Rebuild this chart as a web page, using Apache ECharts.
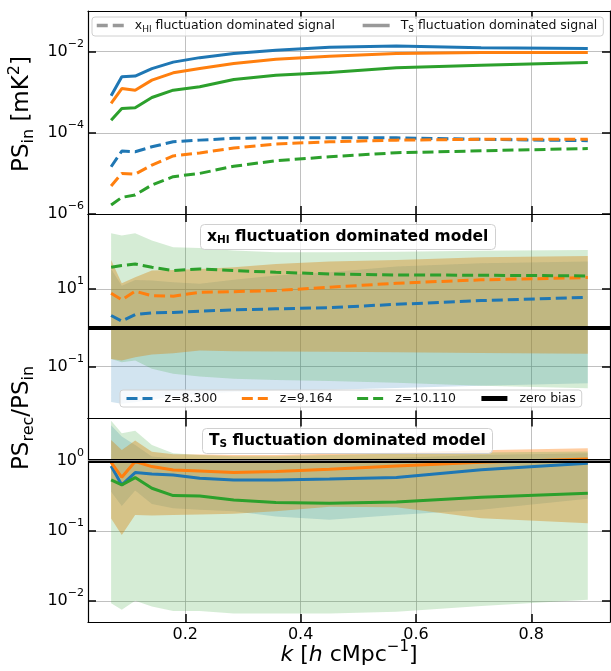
<!DOCTYPE html>
<html>
<head>
<meta charset="utf-8">
<script src="https://cdn.jsdelivr.net/npm/echarts@6/dist/echarts.min.js"></script>
<style>
  html, body { margin: 0; padding: 0; background: #fff; }
  #chart { width: 611px; height: 671px; }
</style>
</head>
<body>
<div id="chart"></div>
<script>
// k bins [h/cMpc]
var k = [0.0713, 0.0898, 0.113, 0.142, 0.179, 0.225, 0.284, 0.357, 0.450, 0.566, 0.713, 0.898];

// top panel: input power spectra [mK^2]
var psInTs8 = [8.2e-4, 2.4e-3, 2.5e-3, 3.8e-3, 5.5e-3, 7.1e-3, 9.0e-3, 1.08e-2, 1.28e-2, 1.38e-2, 1.24e-2, 1.19e-2];
var psInTs9 = [5.3e-4, 1.23e-3, 1.12e-3, 1.98e-3, 3.0e-3, 3.83e-3, 5.1e-3, 6.5e-3, 7.7e-3, 9.0e-3, 9.5e-3, 9.5e-3];
var psInTs10 = [2.05e-4, 3.97e-4, 4.13e-4, 7.4e-4, 1.12e-3, 1.36e-3, 2.06e-3, 2.63e-3, 3.05e-3, 3.98e-3, 4.63e-3, 5.38e-3];
var psInXh8 = [1.46e-5, 3.55e-5, 3.41e-5, 4.53e-5, 6.0e-5, 6.6e-5, 7.3e-5, 7.5e-5, 7.5e-5, 7.5e-5, 6.9e-5, 6.4e-5];
var psInXh9 = [4.9e-6, 1.0e-5, 9.6e-6, 1.6e-5, 2.7e-5, 3.2e-5, 4.2e-5, 5.3e-5, 6.0e-5, 6.6e-5, 6.9e-5, 6.9e-5];
var psInXh10 = [1.66e-6, 2.57e-6, 2.93e-6, 5.2e-6, 8.3e-6, 1.0e-5, 1.5e-5, 2.05e-5, 2.57e-5, 3.23e-5, 3.6e-5, 4.1e-5];

// middle panel: xHI model, PS_rec/PS_in median and band
var xh8 = [2.06, 1.47, 2.18, 2.41, 2.46, 2.66, 2.88, 3.06, 3.3, 4.0, 5.0, 6.1];
var xh9 = [7.7, 5.2, 8.7, 6.7, 6.5, 8.2, 8.5, 9.1, 11.0, 14.0, 17.1, 19.6];
var xh10 = [36, 40, 44, 36, 29.6, 32.7, 29.6, 26.9, 24.3, 22.9, 22.5, 21.6];
var xh8Lo = [0.0121, 0.011, 0.012, 0.014, 0.017, 0.02, 0.022, 0.024, 0.025, 0.028, 0.032, 0.037];
var xh8Hi = [32.7, 12, 17, 16.4, 14.9, 13.5, 17.1, 22, 26.9, 37.6, 45.8, 50.6];
var xh9Lo = [0.157, 0.143, 0.174, 0.204, 0.219, 0.258, 0.248, 0.245, 0.24, 0.234, 0.222, 0.212];
var xh9Hi = [55.8, 14, 20, 30, 30.8, 32.7, 36.2, 44, 50.6, 55.8, 65.3, 70.8];
var xh10Lo = [0.157, 0.128, 0.143, 0.087, 0.065, 0.055, 0.048, 0.045, 0.042, 0.038, 0.032, 0.0277];
var xh10Hi = [271, 236, 271, 176, 118, 114, 97, 88, 88, 91, 96, 101];

// bottom panel: Ts model
var ts8 = [0.84, 0.45, 0.675, 0.646, 0.625, 0.56, 0.53, 0.53, 0.548, 0.573, 0.74, 0.92];
var ts9 = [0.946, 0.579, 0.968, 0.822, 0.736, 0.713, 0.675, 0.697, 0.753, 0.839, 0.95, 1.05];
var ts10 = [0.53, 0.45, 0.573, 0.404, 0.317, 0.314, 0.275, 0.252, 0.247, 0.258, 0.3, 0.343];
var ts8Lo = [0.36, 0.226, 0.374, 0.24, 0.21, 0.2, 0.19, 0.16, 0.143, 0.168, 0.199, 0.285];
var ts8Hi = [3.2, 2.2, 1.67, 1.14, 1.08, 1.05, 1.0, 1.0, 1.05, 1.1, 1.2, 1.27];
var ts9Lo = [0.15, 0.087, 0.168, 0.165, 0.168, 0.17, 0.175, 0.19, 0.22, 0.216, 0.151, 0.128];
var ts9Hi = [1.97, 1.42, 1.93, 1.34, 1.23, 1.22, 1.2, 1.2, 1.25, 1.3, 1.4, 1.5];
var ts10Lo = [0.0093, 0.0075, 0.0101, 0.0083, 0.0072, 0.0072, 0.0066, 0.0066, 0.0066, 0.007, 0.0085, 0.0104];
var ts10Hi = [3.7, 2.45, 2.67, 1.67, 1.27, 1.2, 1.15, 1.15, 1.2, 1.25, 1.3, 1.35];

var xTicks = [0.2, 0.4, 0.6, 0.8];
var yTicks = [[1e-6, 1e-4, 1e-2], [0.1, 10], [0.01, 0.1, 1]];
var yRange = [[1e-6, 1e-1], [0.00457, 851], [0.00501, 3.98]];

var FONT = 'DejaVu Sans';
var C8 = '#1f77b4', C9 = '#ff7f0e', C10 = '#2ca02c';
var DASH = [11, 5];
var gridTops = [11, 214, 418.5];
var gridH = [203, 204.5, 203.5];

var chart = echarts.init(document.getElementById('chart'));

function pairs(arr) { return k.map(function (x, i) { return [x, arr[i]]; }); }

function supLabel(v) {
  var e = Math.round(Math.log10(v));
  return '{b|10}{e|' + (e < 0 ? '\u2212' : '') + Math.abs(e) + '}';
}

var xAxes = [], yAxes = [], grids = [];
for (var g = 0; g < 3; g++) {
  grids.push({ left: 88, right: 1, top: gridTops[g], height: gridH[g] });
  var axLine = { show: true, onZero: false, lineStyle: { color: '#000', width: 1.2 } };
  var tick = { show: true, inside: true, length: 8, lineStyle: { color: '#000', width: 1.5 } };
  xAxes.push({
    gridIndex: g, type: 'value', position: 'bottom', min: 0.0312, max: 0.9365,
    axisLine: axLine,
    axisTick: Object.assign({ customValues: xTicks }, tick),
    axisLabel: { show: g === 2, customValues: xTicks, margin: 5, fontSize: 16, color: '#000', fontFamily: FONT },
    splitLine: { show: true, lineStyle: { color: '#b0b0b0', width: 0.8 } }
  });
  xAxes.push({
    gridIndex: g, type: 'value', position: 'top', min: 0.0312, max: 0.9365,
    axisLine: axLine,
    axisTick: Object.assign({ customValues: xTicks }, tick),
    axisLabel: { show: false },
    splitLine: { show: false }
  });
  yAxes.push({
    gridIndex: g, type: 'log', logBase: 10, position: 'left', min: yRange[g][0], max: yRange[g][1],
    axisLine: axLine,
    axisTick: Object.assign({ customValues: yTicks[g] }, tick),
    minorTick: { show: false },
    axisLabel: {
      customValues: yTicks[g], margin: 4, color: '#000', fontFamily: FONT,
      formatter: supLabel,
      rich: {
        b: { fontSize: 16, lineHeight: 26, fontFamily: FONT, color: '#000' },
        e: { fontSize: 11, verticalAlign: 'top', fontFamily: FONT, color: '#000' }
      }
    },
    splitLine: { show: true, lineStyle: { color: '#b0b0b0', width: 0.8 } }
  });
  yAxes.push({
    gridIndex: g, type: 'log', logBase: 10, position: 'right', min: yRange[g][0], max: yRange[g][1],
    axisLine: axLine,
    axisTick: Object.assign({ customValues: yTicks[g] }, tick),
    axisLabel: { show: false },
    splitLine: { show: false }
  });
}

function line(name, g, arr, color, dashed) {
  return {
    name: name, type: 'line', xAxisIndex: 2 * g, yAxisIndex: 2 * g, data: pairs(arr),
    symbol: 'none', color: color, z: 4, silent: true,
    lineStyle: { color: color, width: 3, type: dashed ? DASH : 'solid' }
  };
}

function band(g, lo, hi, color, alpha) {
  return {
    type: 'custom', xAxisIndex: 2 * g, yAxisIndex: 2 * g, silent: true, z: 1,
    data: k.map(function (x, i) { return [x, lo[i], hi[i]]; }),
    encode: { x: 0, y: [1, 2] },
    renderItem: function (params, api) {
      if (params.dataIndexInside !== 0) return null;
      var n = params.dataInsideLength, top = [], bot = [];
      for (var i = 0; i < n; i++) {
        top.push(api.coord([api.value(0, i), api.value(2, i)]));
        bot.push(api.coord([api.value(0, i), api.value(1, i)]));
      }
      return { type: 'polygon', shape: { points: top.concat(bot.reverse()) }, style: { fill: color, opacity: alpha } };
    }
  };
}

function zeroBias(g, withGrid) {
  var d = [{ yAxis: 1, lineStyle: { color: '#000', width: 4, type: 'solid' } }];
  if (withGrid) d.push({ yAxis: 1, lineStyle: { color: '#b0b0b0', width: 0.8, type: 'solid' } });
  return {
    name: 'zero bias', type: 'line', xAxisIndex: 2 * g, yAxisIndex: 2 * g, data: [],
    color: '#000', lineStyle: { color: '#000', width: 4 }, symbol: 'none', z: 3,
    markLine: { silent: true, symbol: ['none', 'none'], label: { show: false }, animation: false, data: d }
  };
}

var series = [
  // legend proxies for top panel
  { name: 'xhi', type: 'line', xAxisIndex: 0, yAxisIndex: 0, data: [], symbol: 'none', color: '#999',
    lineStyle: { color: '#999', width: 3, type: DASH } },
  { name: 'ts', type: 'line', xAxisIndex: 0, yAxisIndex: 0, data: [], symbol: 'none', color: '#999',
    lineStyle: { color: '#999', width: 3, type: 'solid' } },
  line('in xhi 8.300', 0, psInXh8, C8, true),
  line('in xhi 9.164', 0, psInXh9, C9, true),
  line('in xhi 10.110', 0, psInXh10, C10, true),
  line('in ts 8.300', 0, psInTs8, C8, false),
  line('in ts 9.164', 0, psInTs9, C9, false),
  line('in ts 10.110', 0, psInTs10, C10, false),

  band(1, xh8Lo, xh8Hi, C8, 0.2),
  band(1, xh9Lo, xh9Hi, C9, 0.4),
  band(1, xh10Lo, xh10Hi, C10, 0.2),
  zeroBias(1, false),
  line('z=8.300', 1, xh8, C8, true),
  line('z=9.164', 1, xh9, C9, true),
  line('z=10.110', 1, xh10, C10, true),

  band(2, ts8Lo, ts8Hi, C8, 0.2),
  band(2, ts9Lo, ts9Hi, C9, 0.4),
  band(2, ts10Lo, ts10Hi, C10, 0.2),
  zeroBias(2, true),
  line('ts 8.300', 2, ts8, C8, false),
  line('ts 9.164', 2, ts9, C9, false),
  line('ts 10.110', 2, ts10, C10, false)
];

function legendRich(pad) {
  return {
    t: { fontSize: 12.5, lineHeight: 17, fontFamily: FONT, color: '#111', padding: [0, 0, 0, pad] },
    u: { fontSize: 12.5, lineHeight: 17, fontFamily: FONT, color: '#111' },
    s: { fontSize: 9, verticalAlign: 'bottom', fontFamily: FONT, color: '#111' }
  };
}

var option = {
  animation: false,
  grid: grids,
  xAxis: xAxes,
  yAxis: yAxes,
  series: series,
  legend: [
    {
      data: ['xhi', 'ts'], left: 92, top: 17, width: 580, orient: 'horizontal',
      itemWidth: 27, itemHeight: 12, itemGap: 26,
      itemStyle: { opacity: 0 },
      lineStyle: { width: 3.5 },
      padding: [2, 6, 2, 3], borderColor: '#d0d0d0', borderWidth: 1, borderRadius: 3,
      backgroundColor: 'rgba(255,255,255,0.8)', selectedMode: false,
      formatter: function (n) {
        return n === 'xhi' ? '{t|x}{s|HI}{u| fluctuation dominated signal}' : '{t|T}{s|S}{u| fluctuation dominated signal}';
      },
      textStyle: { rich: legendRich(6) }
    },
    {
      data: ['z=8.300', 'z=9.164', 'z=10.110', { name: 'zero bias', lineStyle: { width: 5 } }],
      left: 120, top: 390,
      width: 560, orient: 'horizontal',
      itemWidth: 26, itemHeight: 12, itemGap: 23,
      itemStyle: { opacity: 0 },
      lineStyle: { width: 3 },
      padding: [2, 6, 2, 5], borderColor: '#d0d0d0', borderWidth: 1, borderRadius: 3,
      backgroundColor: 'rgba(255,255,255,0.8)', selectedMode: false,
      formatter: function (n) { return '{t|' + n + '}'; },
      textStyle: { rich: legendRich(7) }
    }
  ],
  title: [
    {
      text: '{b|x}{s|HI}{b| fluctuation dominated model}', left: 200, top: 223,
      padding: [4, 7, 4, 7], borderColor: '#d0d0d0', borderWidth: 1, borderRadius: 4,
      backgroundColor: 'rgba(255,255,255,0.8)',
      textStyle: {
        rich: {
          b: { fontSize: 15.5, fontWeight: 'bold', lineHeight: 19, fontFamily: FONT, color: '#000' },
          s: { fontSize: 10.5, fontWeight: 'bold', verticalAlign: 'bottom', fontFamily: FONT, color: '#000' }
        }
      }
    },
    {
      text: '{b|T}{s|S}{b| fluctuation dominated model}', left: 202, top: 427,
      padding: [4, 7, 4, 7], borderColor: '#d0d0d0', borderWidth: 1, borderRadius: 4,
      backgroundColor: 'rgba(255,255,255,0.8)',
      textStyle: {
        rich: {
          b: { fontSize: 15.5, fontWeight: 'bold', lineHeight: 19, fontFamily: FONT, color: '#000' },
          s: { fontSize: 10.5, fontWeight: 'bold', verticalAlign: 'bottom', fontFamily: FONT, color: '#000' }
        }
      }
    }
  ],
  graphic: [
    {
      type: 'text', x: 22, y: 114, rotation: Math.PI / 2,
      style: {
        text: '{a|PS}{s|in}{a| [mK}{p|2}{a|]}', align: 'center', verticalAlign: 'middle',
        rich: {
          a: { fontSize: 23, lineHeight: 30, fontFamily: FONT, fill: '#000' },
          s: { fontSize: 16, verticalAlign: 'bottom', fontFamily: FONT, fill: '#000' },
          p: { fontSize: 16, verticalAlign: 'top', fontFamily: FONT, fill: '#000' }
        }
      }
    },
    {
      type: 'text', x: 22, y: 418, rotation: Math.PI / 2,
      style: {
        text: '{a|PS}{s|rec}{a|/PS}{s|in}', align: 'center', verticalAlign: 'middle',
        rich: {
          a: { fontSize: 23, lineHeight: 30, fontFamily: FONT, fill: '#000' },
          s: { fontSize: 16, verticalAlign: 'bottom', fontFamily: FONT, fill: '#000' }
        }
      }
    },
    {
      type: 'text', x: 349, y: 655,
      style: {
        text: '{i|k}{a| [}{i|h}{a| cMpc}{p|\u22121}{a|]}', align: 'center', verticalAlign: 'middle',
        rich: {
          a: { fontSize: 22, lineHeight: 30, fontFamily: FONT, fill: '#000' },
          i: { fontSize: 22, lineHeight: 30, fontStyle: 'italic', fontFamily: FONT, fill: '#000' },
          p: { fontSize: 15, verticalAlign: 'top', fontFamily: FONT, fill: '#000' }
        }
      }
    }
  ]
};

chart.setOption(option);
window.onresize = function () { chart.resize(); };
</script>
</body>
</html>
